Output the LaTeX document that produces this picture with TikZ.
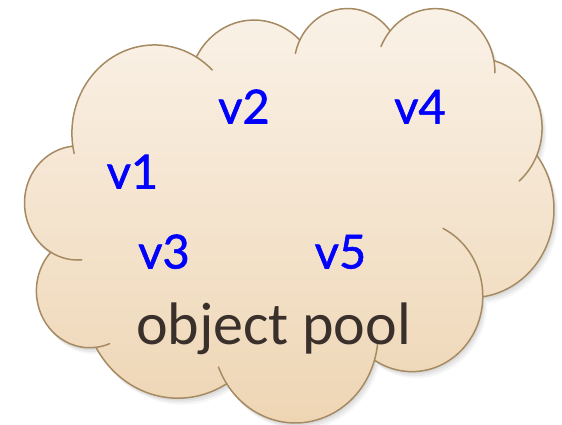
\documentclass[tikz,border=0pt]{standalone}
\usepackage{fontspec}
\newfontfamily\vfont{Lato}[FakeBold=1.2]
\newfontfamily\calib{Carlito}
\definecolor{cloudtop}{HTML}{FAF2E8}
\definecolor{cloudbot}{HTML}{EED5B3}
\definecolor{cloudline}{HTML}{A68A62}
\definecolor{pooltext}{HTML}{3A302B}
\definecolor{vblue}{HTML}{0000FF}
\tikzset{
  cloudedge/.style={draw=cloudline, line width=1.5pt, line join=round, line cap=round},
  vlabel/.style={text=vblue, anchor=base, inner sep=0pt, font=\vfont\fontsize{47}{51}\selectfont},
  poollabel/.style={text=pooltext, anchor=base, inner sep=0pt, font=\calib\fontsize{60}{66}\selectfont},
  cloudframe/.style={shift={(24.93,7.15)}, x=1.2241pt, y=-0.9590pt}
}
\newcommand\cloudoutline{(39.00,143.70)
 arc[start angle=172.255, end angle=300.365, x radius=67.53, y radius=91.90] coordinate (P1)
 arc[start angle=-152.02, end angle=-45.45, x radius=53.33, y radius=72.67] coordinate (P2)
 arc[start angle=-153.50, end angle=-37.33, x radius=43.65, y radius=59.45] coordinate (P3)
 arc[start angle=-139.70, end angle=-10.21, x radius=48.57, y radius=65.95] coordinate (P4)
 arc[start angle=-74.77, end angle=23.21, x radius=53.33, y radius=72.73] coordinate (P5)
 arc[start angle=-37.53, end angle=81.86, x radius=67.75, y radius=92.20] coordinate (P6)
 arc[start angle=0.4597, end angle=121.98, x radius=57.85, y radius=78.67] coordinate (P7)
 arc[start angle=16.84, end angle=146.23, x radius=67.52, y radius=92.15] coordinate (P8)
 arc[start angle=58.98, end angle=150.18, x radius=77.20, y radius=105.43] coordinate (P9)
 arc[start angle=83.31, end angle=223.11, x radius=43.60, y radius=59.18] coordinate (P10)
 arc[start angle=120.36, end angle=264.11, x radius=43.45, y radius=59.45]
 -- cycle}
\begin{document}
\begin{tikzpicture}[x=1pt,y=-1pt]
\useasboundingbox (0,0) rectangle (562,425);
% soft shadow
\begin{scope}[shift={(1.5,2.5)}, cloudframe] \fill[black, opacity=0.06] \cloudoutline; \end{scope}
\begin{scope}[shift={(3,4.5)}, cloudframe] \fill[black, opacity=0.05] \cloudoutline; \end{scope}
\begin{scope}[shift={(4.5,6.5)}, cloudframe] \fill[black, opacity=0.035] \cloudoutline; \end{scope}
% cloud body
\begin{scope}[cloudframe]
\coordinate (P0) at (39.00,143.70);
\shade[top color=cloudtop, bottom color=cloudbot] \cloudoutline;
\draw[cloudedge] \cloudoutline;
% inner ends of the arcs
\draw[cloudedge] (P0) arc[start angle=172.255, end angle=166.58, x radius=67.53, y radius=91.90];
\draw[cloudedge] (P1) arc[start angle=300.365, end angle=314.26, x radius=67.53, y radius=91.90];
\draw[cloudedge] (P2) arc[start angle=-153.50, end angle=-167.73, x radius=43.65, y radius=59.45];
\draw[cloudedge] (P3) arc[start angle=-139.70, end angle=-156.29, x radius=48.57, y radius=65.95];
\draw[cloudedge] (P4) arc[start angle=-10.21, end angle=0.821, x radius=48.57, y radius=65.95];
\draw[cloudedge] (P5) arc[start angle=23.21, end angle=49.63, x radius=53.33, y radius=72.73];
\draw[cloudedge] (P6) arc[start angle=0.4597, end angle=-64.03, x radius=57.85, y radius=78.67];
\draw[cloudedge] (P7) arc[start angle=16.84, end angle=4.737, x radius=67.52, y radius=92.15];
\draw[cloudedge] (P8) arc[start angle=146.23, end angle=158.47, x radius=67.52, y radius=92.15];
\draw[cloudedge] (P9) arc[start angle=83.31, end angle=68.23, x radius=43.60, y radius=59.18];
\draw[cloudedge] (P10) arc[start angle=120.36, end angle=85.55, x radius=43.45, y radius=59.45];
\end{scope}
% labels
\node[vlabel] (v1) at (132.5,188.5) {v1};
\node[vlabel] (v2) at (244,123.5) {v2};
\node[vlabel] (v4) at (420,123.5) {v4};
\node[vlabel] (v3) at (164,268.5) {v3};
\node[vlabel] (v5) at (340.5,268.5) {v5};
\node[poollabel] (pool) at (273.5,344) {object pool};
\end{tikzpicture}
\end{document}
